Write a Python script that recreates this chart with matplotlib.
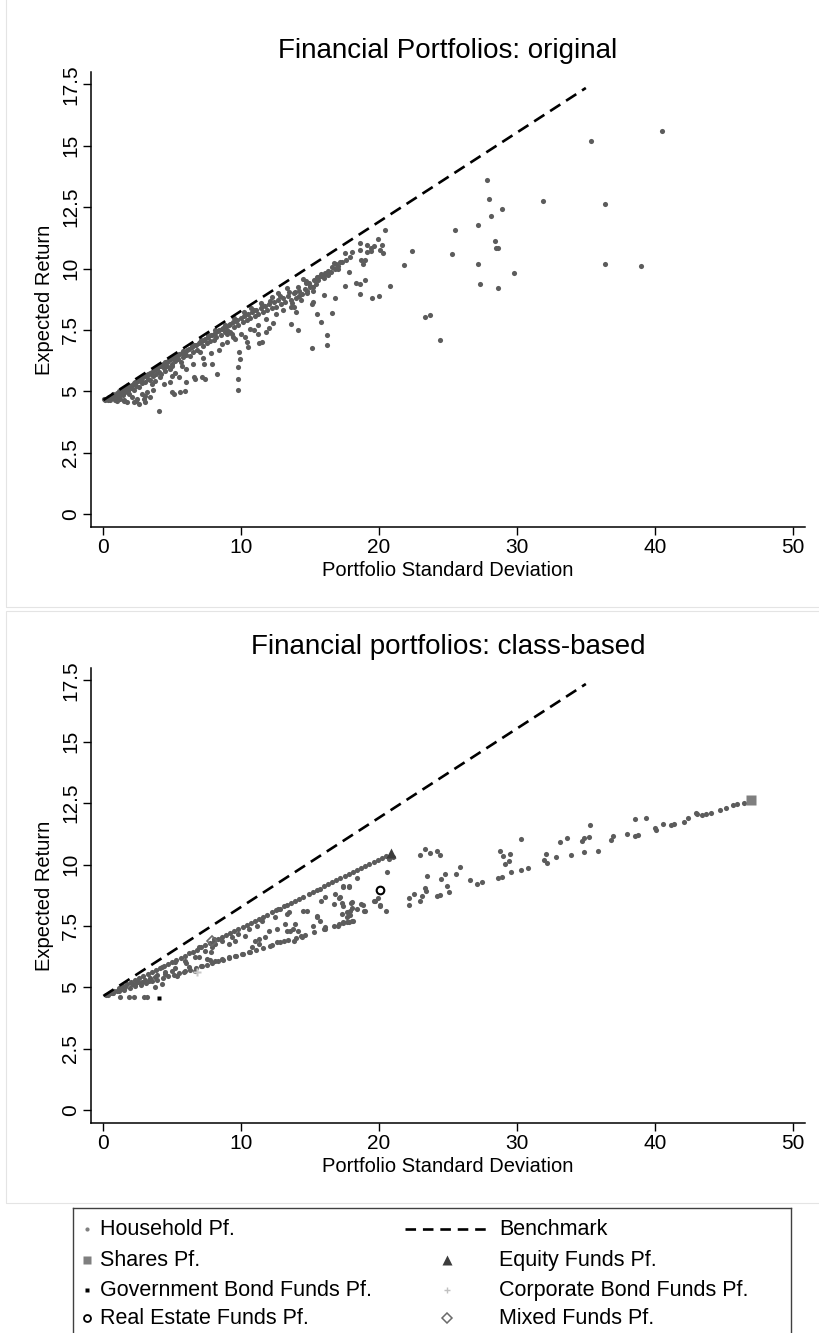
import matplotlib.pyplot as plt

plt.rcParams['font.family'] = ['Liberation Sans', 'DejaVu Sans']

# ---- top panel: household portfolios, original weights ----
orig_x = [
    0.2, 0.4, 0.5, 0.7, 0.8, 0.9, 1.0, 1.1, 1.2, 1.3, 1.4, 1.5, 1.6, 1.7, 1.8, 1.9,
    2.0, 2.1, 2.2, 2.3, 2.4, 2.5, 2.6, 2.7, 2.8, 2.9, 3.0, 3.1, 3.2, 3.3, 3.4, 3.5,
    3.6, 3.7, 3.8, 3.9, 4.0, 4.1, 4.2, 4.3, 4.4, 4.5, 4.6, 4.7, 4.8, 4.9, 5.0, 5.1,
    5.2, 5.3, 5.4, 5.5, 5.6, 5.7, 5.8, 5.9, 6.0, 6.2, 6.3, 6.4, 6.5, 6.7, 6.8, 6.9,
    7.0, 7.1, 7.2, 7.4, 7.5, 7.6, 7.7, 7.9, 8.0, 8.1, 8.2, 8.4, 8.5, 8.6, 8.8, 8.9,
    9.0, 9.2, 9.3, 9.4, 9.5, 9.7, 9.8, 10.0, 10.1, 10.2, 10.4, 10.5, 10.6, 10.8, 11.0, 11.1,
    11.2, 11.4, 11.6, 11.7, 11.9, 12.0, 12.2, 12.4, 12.5, 12.7, 12.9, 13.0, 13.2, 13.4, 13.6, 13.8,
    14.0, 14.2, 14.4, 14.6, 14.8, 15.0, 15.2, 15.4, 15.6, 15.8, 16.0, 16.3, 16.5, 16.8, 17.0, 17.3,
    17.6,
    0.3, 0.6, 1.0, 1.3, 1.6, 2.0, 2.3, 2.7, 3.0, 3.4, 3.8, 4.2, 4.6, 5.0, 5.4, 5.8,
    6.1, 6.6, 7.0, 7.3, 7.8, 8.3, 8.7, 9.1, 9.6, 10.3, 10.9, 11.5, 12.1, 12.8, 13.5, 14.1,
    14.7, 15.3, 16.1,
    1.0, 1.5, 2.4, 3.0, 3.6, 4.4, 5.2, 6.0, 6.5, 7.2, 7.8, 8.4, 9.0, 9.4, 10.0, 10.6,
    11.2, 11.8, 12.5, 13.0, 13.6,
    27.8, 28.0, 28.9, 28.1, 31.9, 27.2, 25.5, 28.4, 28.6, 28.5, 22.4, 25.3, 20.4, 21.8, 27.2, 29.8,
    27.3, 28.6, 20.8, 23.3, 23.7, 24.4, 19.9, 20.2, 20.1, 20.3, 19.6, 19.4, 19.4, 19.1, 19.1, 18.6,
    18.6, 18.0, 17.9, 17.5, 19.0, 18.7, 18.8, 17.8, 19.0, 18.3, 18.6, 17.5, 18.6, 19.5, 20.0, 16.8,
    16.0, 16.6, 15.5, 15.8, 16.2, 16.2, 15.1, 14.1, 13.6, 15.2, 15.1, 15.0, 15.2, 14.8, 14.7, 14.9,
    14.5, 15.5, 15.8, 16.0, 16.3, 15.6, 16.6, 16.9, 17.2, 16.7, 17.0, 13.8, 14.0, 13.7, 14.2, 13.9,
    14.3, 11.2, 10.9, 11.5, 11.3, 12.0, 12.3, 11.8,
    35.4, 40.5, 36.4, 36.4, 39.0,
    4.06, 9.73, 9.73, 9.80, 9.88, 9.83, 10.5, 10.4, 10.3, 9.57, 9.2, 8.96, 8.6, 8.24, 7.39, 7.15,
    6.67, 6.54, 7.87, 7.27, 5.94, 5.58, 5.1, 5.0, 5.99, 5.46, 4.98, 4.86, 5.7, 4.98, 4.49, 4.13,
    3.77, 3.53, 3.41, 3.04, 2.92, 2.56, 2.2, 1.72, 1.47, 1.23, 0.87, 0.51, 0.14, 0.02, 2.08, 2.44,
    2.8, 3.17, 1.84, 1.59, 1.23, 0.87,
    0.4, 0.7, 1.1, 1.4, 1.8, 2.2, 2.6, 3.2, 3.9, 4.5, 5.3, 6.4, 7.1, 7.6, 8.1, 8.8,
    9.5, 10.2, 10.7, 11.4, 12.2, 12.7, 13.3,
]
orig_y = [
    4.68, 4.70, 4.74, 4.78, 4.83, 4.74, 4.86, 4.80, 4.98, 4.92, 4.85, 5.06, 4.98, 5.10, 5.02, 5.21,
    5.12, 5.28, 5.05, 5.30, 5.22, 5.44, 5.18, 5.46, 5.36, 5.60, 5.40, 5.66, 5.52, 5.70, 5.45, 5.78,
    5.62, 5.88, 5.70, 5.95, 5.80, 6.02, 5.70, 6.10, 5.95, 6.18, 6.02, 6.25, 5.90, 6.30, 6.12, 6.38,
    6.22, 6.45, 6.30, 6.52, 6.18, 6.58, 6.40, 6.62, 6.50, 6.72, 6.42, 6.80, 6.60, 6.90, 6.70, 6.95,
    6.62, 7.02, 6.85, 7.12, 6.95, 7.22, 7.05, 7.30, 7.10, 7.38, 7.20, 7.48, 7.30, 7.55, 7.40, 7.65,
    7.50, 7.75, 7.35, 7.82, 7.62, 7.90, 7.70, 8.00, 7.82, 8.08, 7.90, 8.15, 7.98, 8.25, 8.05, 8.32,
    8.15, 8.40, 8.22, 8.48, 8.30, 8.55, 8.40, 8.65, 8.45, 8.72, 8.55, 8.82, 8.62, 8.90, 8.72, 9.00,
    8.80, 9.10, 8.95, 9.18, 9.02, 9.28, 9.10, 9.38, 9.65, 9.70, 9.75, 9.90, 9.85, 10.00, 10.12, 10.25,
    10.35,
    4.66, 4.72, 4.92, 5.00, 5.12, 5.22, 5.38, 5.50, 5.62, 5.75, 5.90, 6.05, 6.20, 6.35, 6.50, 6.65,
    6.70, 6.88, 7.00, 7.10, 7.28, 7.45, 7.60, 7.70, 7.88, 8.10, 8.30, 8.50, 8.68, 8.88, 9.05, 9.25,
    9.42, 9.55, 9.80,
    4.60, 4.62, 4.62, 4.80, 5.05, 5.30, 5.75, 5.90, 6.10, 6.35, 6.55, 6.70, 7.00, 7.20, 7.35, 7.55,
    7.70, 7.95, 8.15, 8.30, 8.45,
    13.61, 12.84, 12.44, 12.15, 12.75, 11.77, 11.58, 11.14, 10.85, 10.82, 10.72, 10.58, 11.57, 10.15, 10.19, 9.83,
    9.37, 9.19, 9.30, 8.04, 8.09, 7.10, 11.22, 10.96, 10.76, 10.65, 10.92, 10.83, 10.72, 10.96, 10.69, 11.02,
    10.75, 10.69, 10.45, 10.65, 10.34, 10.34, 10.20, 9.85, 9.55, 9.42, 9.38, 9.28, 8.96, 8.80, 8.89, 8.81,
    8.92, 8.21, 8.17, 7.84, 7.31, 6.90, 6.77, 7.48, 7.73, 8.62, 8.55, 9.23, 9.26, 9.07, 9.50, 9.43,
    9.57, 9.65, 9.78, 9.62, 9.72, 9.55, 10.05, 10.18, 10.28, 10.22, 9.98, 8.45, 8.25, 8.60, 8.88, 9.05,
    8.70, 7.35, 7.50, 7.00, 6.95, 7.60, 7.78, 7.40,
    15.21, 15.60, 12.64, 10.19, 10.12,
    4.22, 5.06, 5.51, 6.01, 6.32, 6.60, 6.79, 7.00, 7.20, 7.13, 7.40, 7.34, 6.93, 5.71, 5.51, 5.60,
    5.51, 5.57, 6.12, 6.12, 5.03, 4.97, 4.90, 4.97, 5.37, 5.57, 5.64, 5.37, 6.05, 6.05, 5.85, 5.57,
    5.44, 5.31, 4.76, 4.56, 4.70, 4.49, 4.56, 4.56, 4.63, 4.70, 4.66, 4.63, 4.66, 4.70, 4.76, 4.70,
    4.90, 4.97, 4.90, 5.03, 4.90, 4.83,
    4.76, 4.88, 5.02, 5.06, 5.24, 5.36, 5.50, 5.72, 5.96, 6.14, 6.48, 6.86, 7.10, 7.30, 7.48, 7.72,
    7.98, 8.22, 8.38, 8.60, 8.86, 9.02, 9.20,
]

# ---- bottom panel: household portfolios, class-based ----
cls_x = [
    0.2, 0.5, 0.8, 1.1, 1.4, 1.7, 2.0, 2.3, 2.6, 2.9, 3.2, 3.5, 3.8, 4.1, 4.4, 4.7,
    5.0, 5.3, 5.6, 5.9, 6.2, 6.5, 6.8, 7.1, 7.4, 7.7, 8.0, 8.3, 8.6, 8.9, 9.2, 9.5,
    9.8, 10.1, 10.4, 10.7, 11.0, 11.3, 11.6, 11.9, 12.2, 12.5, 12.8, 13.1, 13.3, 13.6, 13.9, 14.2,
    14.5, 14.9, 15.2, 15.5, 15.7, 16.0, 16.3, 16.6, 16.9, 17.2, 17.5, 17.8, 18.1, 18.4, 18.7, 19.0,
    19.3, 19.6, 19.9, 20.2, 20.5,
    0.3, 0.7, 1.1, 1.5, 1.9, 2.3, 2.7, 3.1, 3.5, 3.9, 4.3, 4.7, 5.1, 5.5, 5.9, 6.3,
    6.7, 7.1, 7.5, 7.9, 8.3, 8.7, 9.1, 9.6, 10.1, 10.6, 11.1, 11.6, 12.2, 12.8, 13.4, 14.0,
    14.6, 15.3, 16.0, 16.7, 17.4, 18.0,
    46.5, 46.0, 45.7, 45.2, 44.7, 44.1, 43.7, 43.4, 43.1, 43.0, 42.4, 42.1, 41.4, 41.2, 40.6, 40.0,
    40.1, 39.4, 38.6, 38.8, 38.6, 38.0, 37.0, 36.8, 35.9, 35.3, 35.2, 34.9, 34.7, 34.9, 33.9, 33.6,
    33.1, 32.8, 32.2, 32.0, 32.1, 30.8, 30.3, 29.6, 30.3, 29.4, 29.1, 29.5, 29.0, 28.8, 28.9, 28.6,
    27.5, 27.1, 26.6, 25.9, 25.6, 25.1, 24.9, 24.4, 24.2, 24.8, 24.5, 23.5, 23.1, 23.4, 23.3, 22.5,
    22.2, 22.2, 23.0, 23.0, 23.3, 23.7, 24.2, 24.4,
    20.6, 19.9, 20.1, 19.7, 20.5, 20.7, 21.0,
    18.4, 17.4, 17.8, 17.2, 18.0, 18.4, 18.8, 19.0, 17.7, 17.9,
    20.1, 19.6, 18.9, 18.7, 17.8, 17.4, 17.97, 18.0, 17.8, 17.4, 17.1, 17.66, 17.3, 17.9, 17.4,
    17.3, 17.1, 16.7, 16.8, 16.1, 15.8, 15.7, 16.1, 15.2, 15.5, 14.76, 14.5,
    14.4, 14.15, 13.79, 13.55, 13.31, 13.19, 13.31, 12.6, 13.07, 12.6, 12.1, 11.98, 11.74, 11.26, 11.26, 11.01,
    10.77, 10.53, 10.05, 9.56, 9.08, 8.6, 8.12, 7.75, 7.51, 9.08, 9.56, 10.29, 9.8, 9.32, 8.6, 8.12,
    8.0, 10.53, 11.14, 11.5, 12.46, 12.7, 13.43, 13.9,
    7.15, 6.67, 6.18, 5.82, 5.34, 4.98, 4.49, 4.25, 3.77, 3.28, 2.8, 2.32, 5.94, 5.22, 6.67, 7.39,
    7.87, 6.91, 4.25, 3.77,
    1.23, 1.83, 2.2, 2.92, 3.16,
    16.1, 17.05, 17.7, 18.14, 15.5, 14.3, 13.8,
    0.6, 1.0, 1.3, 1.6, 2.1, 2.5, 3.0, 3.4, 3.9, 4.5, 5.2, 6.0, 6.9, 7.8,
]
cls_y = [
    4.71, 4.79, 4.87, 4.96, 5.04, 5.12, 5.21, 5.29, 5.37, 5.46, 5.54, 5.62, 5.71, 5.79, 5.88, 5.96,
    6.04, 6.13, 6.21, 6.29, 6.38, 6.46, 6.54, 6.63, 6.71, 6.79, 6.88, 6.96, 7.05, 7.13, 7.21, 7.30,
    7.38, 7.46, 7.55, 7.63, 7.71, 7.80, 7.88, 7.96, 8.05, 8.13, 8.21, 8.30, 8.35, 8.44, 8.52, 8.60,
    8.69, 8.80, 8.88, 8.97, 9.02, 9.11, 9.19, 9.27, 9.36, 9.44, 9.52, 9.61, 9.69, 9.77, 9.86, 9.94,
    10.03, 10.11, 10.19, 10.28, 10.36,
    4.70, 4.77, 4.84, 4.91, 4.97, 5.04, 5.11, 5.18, 5.25, 5.31, 5.38, 5.45, 5.52, 5.59, 5.65, 5.72,
    5.79, 5.86, 5.93, 5.99, 6.06, 6.13, 6.20, 6.28, 6.37, 6.45, 6.54, 6.62, 6.72, 6.83, 6.93, 7.03,
    7.13, 7.25, 7.37, 7.49, 7.61, 7.71,
    12.52, 12.45, 12.41, 12.29, 12.21, 12.11, 12.04, 12.02, 12.07, 12.11, 11.88, 11.75, 11.67, 11.61, 11.67, 11.50,
    11.40, 11.91, 11.84, 11.21, 11.17, 11.26, 11.18, 11.00, 10.56, 11.61, 11.14, 11.07, 10.94, 10.53, 10.37, 11.10,
    10.92, 10.31, 10.08, 10.18, 10.43, 9.84, 9.77, 9.68, 11.04, 10.15, 10.02, 10.42, 10.35, 10.56, 9.50, 9.45,
    9.27, 9.20, 9.39, 9.91, 9.61, 8.89, 9.12, 8.76, 8.72, 9.61, 9.43, 9.54, 8.70, 8.91, 9.04, 8.80,
    8.63, 8.36, 8.53, 10.39, 10.62, 10.48, 10.56, 10.39,
    9.70, 8.62, 8.36, 8.53, 8.09, 10.22, 10.30,
    9.45, 9.09, 9.07, 8.66, 8.46, 8.19, 8.36, 8.12, 8.05, 7.96,
    8.32, 8.53, 8.12, 8.39, 9.14, 9.14, 8.45, 8.25, 7.65, 7.65, 7.58, 7.85, 7.99, 8.12, 8.32,
    8.45, 8.63, 8.39, 8.80, 8.66, 8.53, 7.71, 7.38, 7.51, 7.92, 8.12, 8.12,
    7.04, 7.31, 7.38, 7.31, 7.31, 7.58, 7.99, 7.38, 6.90, 6.83, 6.70, 7.31, 7.04, 6.97, 6.77, 6.90,
    6.63, 6.43, 6.36, 6.29, 6.22, 6.16, 6.09, 6.11, 6.16, 6.77, 6.90, 7.11, 7.17, 7.04, 6.90, 6.77,
    6.97, 7.38, 7.51, 7.71, 7.85, 8.19, 8.05, 7.58,
    5.89, 5.68, 5.82, 5.62, 5.48, 5.68, 5.55, 5.82, 5.41, 5.28, 5.21, 5.14, 6.09, 6.02, 6.22, 6.50,
    6.63, 6.63, 5.14, 5.01,
    4.59, 4.59, 4.59, 4.59, 4.59,
    7.44, 7.51, 7.65, 7.71, 7.85, 7.11, 6.90,
    4.78, 4.87, 4.94, 5.00, 5.12, 5.20, 5.30, 5.40, 5.50, 5.62, 5.80, 5.98, 6.22, 6.45,
]

# benchmark line (same in both panels)
bench_x = [0, 35]
bench_y = [4.65, 17.35]

# asset-class portfolios (bottom panel only)
shares_xy = (47.0, 12.63)
equity_xy = (20.9, 10.47)
govbond_xy = (4.0, 4.55)
corpbond_xy = (6.8, 5.64)
realestate_xy = (20.1, 8.97)
mixed_xy = (7.9, 6.90)

x_ticks = [0, 10, 20, 30, 40, 50]
y_ticks = [0, 2.5, 5, 7.5, 10, 12.5, 15, 17.5]
y_ticklabels = ['0', '2.5', '5', '7.5', '10', '12.5', '15', '17.5']

legend_labels = ['Household Pf.', 'Benchmark', 'Shares Pf.', 'Equity Funds Pf.',
                 'Government Bond Funds Pf.', 'Corporate Bond Funds Pf.',
                 'Real Estate Funds Pf.', 'Mixed Funds Pf.']

W, H = 819, 1333
DOT = '#5c5c5c'
fig = plt.figure(figsize=(W / 100, H / 100), dpi=100)


def px_axes(x0, y0, x1, y1):
    return fig.add_axes([x0 / W, 1 - y1 / H, (x1 - x0) / W, (y1 - y0) / H])


def style_axes(ax, title):
    ax.set_xlim(-0.9, 50.9)
    ax.set_ylim(-0.52, 18.0)
    ax.spines[['top', 'right']].set_visible(False)
    for s in ['left', 'bottom']:
        ax.spines[s].set_linewidth(1.1)
    ax.set_xticks(x_ticks)
    ax.set_yticks(y_ticks)
    ax.set_yticklabels(y_ticklabels, rotation=90, va='center')
    ax.tick_params(labelsize=15, length=6, width=1.0, pad=2)
    ax.set_xlabel('Portfolio Standard Deviation', fontsize=14.5, labelpad=3)
    ax.set_ylabel('Expected Return', fontsize=14.5, labelpad=5)
    ax.set_title(title, fontsize=20, pad=10)


def bench(ax):
    ax.plot(bench_x, bench_y, color='black', lw=1.9, dashes=(4.6, 2.6))


# faint borders of the two sub-graphs
for (y0, y1) in [(-2, 607), (611, 1203)]:
    fig.add_artist(plt.Rectangle((6 / W, 1 - y1 / H), 1.0, (y1 - y0) / H,
                                 transform=fig.transFigure, fill=False,
                                 edgecolor='#e4e4e4', lw=0.8))

ax1 = px_axes(91, 72, 805, 527)
style_axes(ax1, 'Financial Portfolios: original')
ax1.plot(orig_x, orig_y, 'o', ms=3.7, color=DOT, mec='none')
bench(ax1)

ax2 = px_axes(91, 668, 805, 1123)
style_axes(ax2, 'Financial portfolios: class-based')
ax2.plot(cls_x, cls_y, 'o', ms=3.7, color=DOT, mec='none')
bench(ax2)
ax2.plot(*shares_xy, 's', ms=7, color='#7f7f7f', mec='none')
ax2.plot(*equity_xy, '^', ms=7.5, color='#3c3c3c', mec='none')
ax2.plot(*govbond_xy, 's', ms=3.2, color='black', mec='none')
ax2.plot(*corpbond_xy, 'P', ms=5.5, color='#c8c8c8', mec='none')
ax2.plot(*realestate_xy, 'o', ms=5.5, mfc='none', mec='black', mew=1.5)
ax2.plot(*mixed_xy, 'D', ms=5, mfc='none', mec='#6a6a6a', mew=1.2)

# legend box, drawn in pixel coordinates
axl = px_axes(73, 1208, 791, 1345)
axl.set_xlim(73, 791)
axl.set_ylim(1345, 1208)
axl.set_xticks([])
axl.set_yticks([])
axl.spines['bottom'].set_visible(False)
for s in ['left', 'right', 'top']:
    axl.spines[s].set_color('#404040')
    axl.spines[s].set_linewidth(1.0)

rows = [1229, 1260, 1290, 1318]
handles = [
    dict(marker='o', ms=3.0, color='#808080', mec='none'),
    None,
    dict(marker='s', ms=6, color='#7f7f7f', mec='none'),
    dict(marker='^', ms=6.5, color='#3c3c3c', mec='none'),
    dict(marker='s', ms=2.8, color='black', mec='none'),
    dict(marker='+', ms=5, color='#c0c0c0', mec='#c0c0c0', mew=1.0),
    dict(marker='o', ms=5, mfc='none', mec='black', mew=1.3),
    dict(marker='D', ms=5, mfc='none', mec='#6a6a6a', mew=1.1),
]
for i, (lab, h) in enumerate(zip(legend_labels, handles)):
    r, c = divmod(i, 2)
    y = rows[r]
    if c == 0:
        mx, tx = 87, 100
    else:
        mx, tx = 447, 499
    if h is None:
        axl.plot([405, 487], [y, y], color='black', lw=1.9, dashes=(4.0, 2.6))
    else:
        axl.plot([mx], [y], ls='none', **h)
    axl.text(tx, y, lab, fontsize=15.5, va='center', ha='left')

fig.savefig('out.png', dpi=100)
